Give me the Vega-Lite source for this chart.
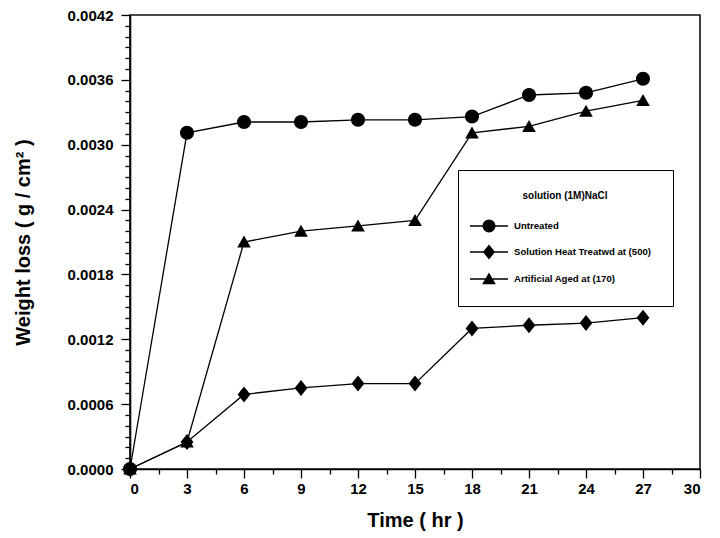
{
  "$schema": "https://vega.github.io/schema/vega-lite/v6.json",
  "width": 570,
  "height": 454,
  "autosize": {"type": "none"},
  "padding": {"left": 130, "top": 15, "right": 20, "bottom": 69},
  "background": "white",
  "config": {
    "font": "Liberation Sans",
    "view": {"stroke": "#111111", "strokeWidth": 1.6},
    "axis": {
      "grid": false,
      "domainColor": "black",
      "domainWidth": 1.6,
      "tickColor": "black",
      "tickWidth": 1.3,
      "labelFont": "Liberation Sans",
      "labelFontWeight": "bold",
      "labelFontSize": 15,
      "labelColor": "black",
      "titleFont": "Liberation Sans",
      "titleFontWeight": "bold",
      "titleFontSize": 20,
      "titleColor": "black"
    }
  },
  "data": {
    "values": [
      {"time": 0, "loss": 0, "series": "Untreated"},
      {"time": 3, "loss": 0.00311, "series": "Untreated"},
      {"time": 6, "loss": 0.00321, "series": "Untreated"},
      {"time": 9, "loss": 0.00321, "series": "Untreated"},
      {"time": 12, "loss": 0.00323, "series": "Untreated"},
      {"time": 15, "loss": 0.00323, "series": "Untreated"},
      {"time": 18, "loss": 0.00326, "series": "Untreated"},
      {"time": 21, "loss": 0.00346, "series": "Untreated"},
      {"time": 24, "loss": 0.00348, "series": "Untreated"},
      {"time": 27, "loss": 0.00361, "series": "Untreated"},
      {"time": 0, "loss": 0, "series": "Solution Heat Treatwd at (500)"},
      {"time": 3, "loss": 0.00025, "series": "Solution Heat Treatwd at (500)"},
      {"time": 6, "loss": 0.00069, "series": "Solution Heat Treatwd at (500)"},
      {"time": 9, "loss": 0.00075, "series": "Solution Heat Treatwd at (500)"},
      {"time": 12, "loss": 0.00079, "series": "Solution Heat Treatwd at (500)"},
      {"time": 15, "loss": 0.00079, "series": "Solution Heat Treatwd at (500)"},
      {"time": 18, "loss": 0.0013, "series": "Solution Heat Treatwd at (500)"},
      {"time": 21, "loss": 0.00133, "series": "Solution Heat Treatwd at (500)"},
      {"time": 24, "loss": 0.00135, "series": "Solution Heat Treatwd at (500)"},
      {"time": 27, "loss": 0.0014, "series": "Solution Heat Treatwd at (500)"},
      {"time": 0, "loss": 0, "series": "Artificial Aged at (170)"},
      {"time": 3, "loss": 0.00025, "series": "Artificial Aged at (170)"},
      {"time": 6, "loss": 0.0021, "series": "Artificial Aged at (170)"},
      {"time": 9, "loss": 0.0022, "series": "Artificial Aged at (170)"},
      {"time": 12, "loss": 0.00225, "series": "Artificial Aged at (170)"},
      {"time": 15, "loss": 0.0023, "series": "Artificial Aged at (170)"},
      {"time": 18, "loss": 0.00311, "series": "Artificial Aged at (170)"},
      {"time": 21, "loss": 0.00317, "series": "Artificial Aged at (170)"},
      {"time": 24, "loss": 0.00331, "series": "Artificial Aged at (170)"},
      {"time": 27, "loss": 0.00341, "series": "Artificial Aged at (170)"}
    ]
  },
  "layer": [
    {
      "mark": {"type": "line", "color": "black", "strokeWidth": 1.3},
      "encoding": {
        "x": {
          "field": "time",
          "type": "quantitative",
          "scale": {"domain": [0, 30], "nice": false, "zero": false},
          "axis": {
            "orient": "bottom",
            "title": "Time ( hr )",
            "values": [0, 3, 6, 9, 12, 15, 18, 21, 24, 27, 30],
            "format": "d",
            "tickSize": 9,
            "labelPadding": 3,
            "titlePadding": 14
          }
        },
        "y": {
          "field": "loss",
          "type": "quantitative",
          "scale": {"domain": [0, 0.0042], "nice": false, "zero": false},
          "axis": {
            "orient": "left",
            "title": "Weight loss ( g / cm² )",
            "values": [0, 0.0006, 0.0012, 0.0018, 0.0024, 0.003, 0.0036, 0.0042],
            "format": ".4f",
            "tickSize": 9,
            "labelPadding": 8,
            "titlePadding": 34
          }
        },
        "detail": {"field": "series"}
      }
    },
    {
      "transform": [{"filter": "datum.series === 'Untreated'"}],
      "mark": {
        "type": "point", "filled": true, "color": "black", "opacity": 1, "size": 256,
        "shape": "M-0.875,0A0.875,0.875,0,1,0,0.875,0A0.875,0.875,0,1,0,-0.875,0Z"
      },
      "encoding": {
        "x": {
          "field": "time",
          "type": "quantitative",
          "axis": {
            "orient": "bottom",
            "title": null,
            "labels": false,
            "domain": false,
            "tickSize": 5,
            "values": [1.5, 4.5, 7.5, 10.5, 13.5, 16.5, 19.5, 22.5, 25.5, 28.5]
          }
        },
        "y": {
          "field": "loss",
          "type": "quantitative",
          "axis": {
            "orient": "left",
            "title": null,
            "labels": false,
            "domain": false,
            "tickSize": 5,
            "values": [0.0001, 0.0002, 0.0003, 0.0004, 0.0005, 0.0007, 0.0008, 0.0009, 0.001, 0.0011, 0.0013, 0.0014, 0.0015, 0.0016, 0.0017, 0.0019, 0.002, 0.0021, 0.0022, 0.0023, 0.0025, 0.0026, 0.0027, 0.0028, 0.0029, 0.0031, 0.0032, 0.0033, 0.0034, 0.0035, 0.0037, 0.0038, 0.0039, 0.004, 0.0041]
          }
        }
      }
    },
    {
      "transform": [{"filter": "datum.series === 'Solution Heat Treatwd at (500)'"}],
      "mark": {
        "type": "point", "filled": true, "color": "black", "opacity": 1, "size": 256,
        "shape": "M0,-1L0.8,0L0,1L-0.8,0Z"
      },
      "encoding": {
        "x": {"field": "time", "type": "quantitative", "axis": null},
        "y": {"field": "loss", "type": "quantitative", "axis": null}
      }
    },
    {
      "transform": [{"filter": "datum.series === 'Artificial Aged at (170)'"}],
      "mark": {
        "type": "point", "filled": true, "color": "black", "opacity": 1, "size": 256,
        "shape": "M0,-0.8L0.85,0.7L-0.85,0.7Z"
      },
      "encoding": {
        "x": {"field": "time", "type": "quantitative", "axis": null},
        "y": {"field": "loss", "type": "quantitative", "axis": null}
      }
    },
    {
      "mark": {"type": "point", "filled": true, "color": "black", "opacity": 0, "size": 1444},
      "encoding": {
        "x": {"field": "time", "type": "quantitative", "axis": null},
        "y": {"field": "loss", "type": "quantitative", "axis": null},
        "shape": {
          "field": "series",
          "type": "nominal",
          "scale": {
            "domain": ["Untreated", "Solution Heat Treatwd at (500)", "Artificial Aged at (170)"],
            "range": [
              "M-1,-0.035L1,-0.035L1,0.035L-1,0.035ZM-0.34,0A0.34,0.34,0,1,1,0.34,0A0.34,0.34,0,1,1,-0.34,0Z",
              "M-1,-0.035L1,-0.035L1,0.035L-1,0.035ZM0,-0.4L0.32,0L0,0.4L-0.32,0Z",
              "M-1,-0.035L1,-0.035L1,0.035L-1,0.035ZM0,-0.34L0.36,0.28L-0.36,0.28Z"
            ]
          },
          "legend": {
            "title": "solution (1M)NaCl",
            "orient": "none",
            "legendX": 328,
            "legendY": 155,
            "direction": "vertical",
            "strokeColor": "black",
            "fillColor": "white",
            "padding": 21,
            "titleFont": "Liberation Sans",
            "titleFontSize": 10,
            "titleFontWeight": "bold",
            "titleColor": "black",
            "titleAnchor": "middle",
            "titlePadding": 6,
            "labelFont": "Liberation Sans",
            "labelFontSize": 9.6,
            "labelFontWeight": "bold",
            "labelColor": "black",
            "labelOffset": 6,
            "rowPadding": -8,
            "symbolOffset": -9,
            "symbolSize": 1444,
            "symbolOpacity": 1,
            "symbolFillColor": "black",
            "symbolStrokeWidth": 0
          }
        }
      }
    }
  ],
  "resolve": {"axis": {"x": "independent", "y": "independent"}}
}
